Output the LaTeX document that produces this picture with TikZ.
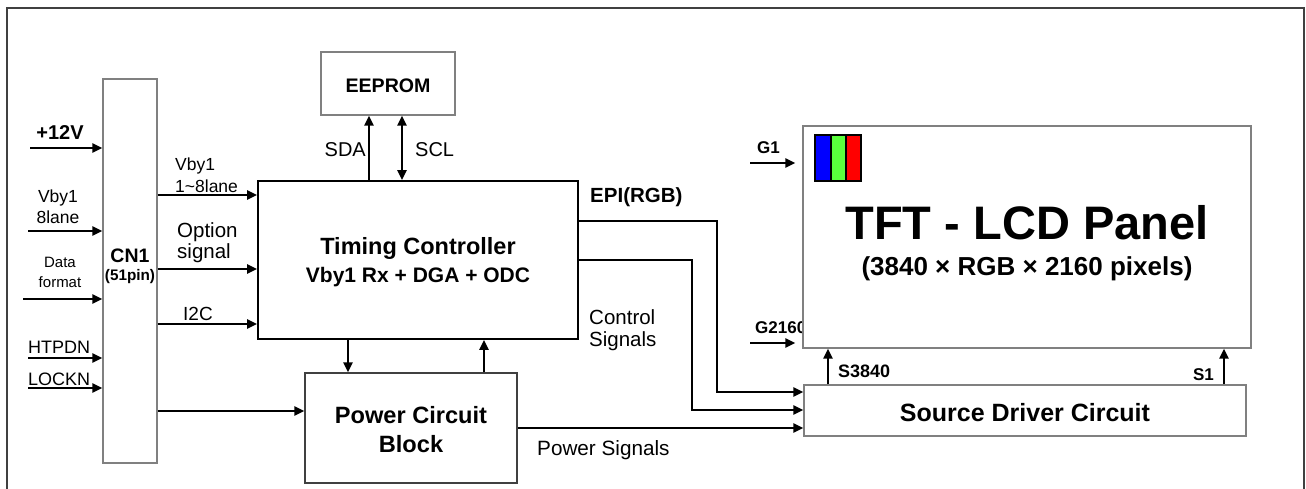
\documentclass[tikz,border=0pt]{standalone}
\usepackage{fontspec}
\setmainfont{Liberation Sans}
\usetikzlibrary{arrows.meta}
\newcommand\fsz[1]{\fontsize{#1}{#1}\selectfont}
\begin{document}
\begin{tikzpicture}[x=1pt,y=-1pt,
  arr/.style={line width=2.5pt,-{Triangle[length=10pt,width=9pt]}},
  darr/.style={line width=2.5pt,{Triangle[length=10pt,width=9pt]}-{Triangle[length=10pt,width=9pt]}},
  gbox/.style={draw=black!50,line width=1.4pt,fill=white,inner sep=0pt},
  kbox/.style={draw=black,line width=1.7pt,fill=white,inner sep=0pt},
  lbl/.style={inner sep=0pt,anchor=base},
  lblw/.style={inner sep=0pt,anchor=base west},
  lble/.style={inner sep=0pt,anchor=base east}]
\useasboundingbox (0,0) rectangle (1306,489);
\clip (0,0) rectangle (1306,489);
% outer frame
\draw[draw=black!75,line width=2.5pt] (7,500) -- (7,8) -- (1304,8) -- (1304,500);

% boxes
\node[gbox,minimum width=54pt,minimum height=384pt] (cn1) at (130,271) {};
\node[kbox,minimum width=320pt,minimum height=158pt] (tc) at (418,260) {};
\node[gbox,minimum width=134pt,minimum height=63pt] (ee) at (388,83.5) {};
\node[gbox,draw=black!75,minimum width=212pt,minimum height=110pt] (pw) at (411,428) {};
\node[lblw,font=\bfseries\fsz{17}] (g2160) at (755,333) {G2160};
\node[gbox,minimum width=448pt,minimum height=222pt] (panel) at (1027,237) {};
\node[gbox,minimum width=442pt,minimum height=51pt] (sd) at (1025,410.5) {};

% RGB pixel
\path[fill={rgb,255:red,0;green,0;blue,255}] (815,135) rectangle (831,181);
\path[fill={rgb,255:red,90;green,255;blue,60}] (831,135) rectangle (846,181);
\path[fill={rgb,255:red,255;green,0;blue,0}] (846,135) rectangle (861,181);
\draw[line width=1.5pt] (815,135) rectangle (861,181) (831,135) -- (831,181) (846,135) -- (846,181);

% input arrows to CN1
\coordinate (i1) at (30,148);
\coordinate (i2) at (28,231);
\coordinate (i3) at (23,299);
\coordinate (i4) at (28,358);
\coordinate (i5) at (28,388);
\foreach \c in {i1,i2,i3,i4,i5} \draw[arr] (\c) -- (\c -| cn1.west);

% CN1 outputs
\coordinate (o1) at (160,195);
\coordinate (o2) at (160,269);
\coordinate (o3) at (160,324);
\coordinate (o4) at (160,411);
\foreach \c in {o1,o2,o3} \draw[arr] (\c -| cn1.east) -- (\c -| tc.west);
\draw[arr] (o4 -| cn1.east) -- (o4 -| pw.west);

% EEPROM links
\coordinate (sdax) at (369,150);
\coordinate (sclx) at (402,150);
\draw[arr] (sdax |- tc.north) -- (sdax |- ee.south);
\draw[darr] (sclx |- tc.north) -- (sclx |- ee.south);

% TC <-> power
\coordinate (dnx) at (348,356);
\coordinate (upx) at (484,356);
\draw[arr] (dnx |- tc.south) -- (dnx |- pw.north);
\draw[arr] (upx |- pw.north) -- (upx |- tc.south);

% EPI and control to source driver
\coordinate (e1) at (717,221);
\coordinate (e2) at (717,392);
\coordinate (c1) at (692,260);
\coordinate (c2) at (692,410);
\draw[arr] (e1 -| tc.east) -- (e1) -- (e2) -- (e2 -| sd.west);
\draw[arr] (c1 -| tc.east) -- (c1) -- (c2) -- (c2 -| sd.west);
\draw[arr] (pw.east) -- (pw.east -| sd.west);

% gate arrows
\coordinate (gg1) at (750,163);
\coordinate (gg2) at (750,343);
\draw[arr,shorten >=7pt] (gg1) -- (gg1 -| panel.west);
\draw[arr,shorten >=7pt] (gg2) -- (gg2 -| panel.west);

% source arrows
\coordinate (s1x) at (828,366);
\coordinate (s2x) at (1224,366);
\draw[arr] (s1x |- sd.north) -- (s1x |- panel.south);
\draw[arr] (s2x |- sd.north) -- (s2x |- panel.south);

% labels
\node[lbl,font=\bfseries\fsz{20}] (t12v) at (60,140) {+12V};
\node[lbl,font=\fsz{17.5}] (tvb1) at (58,203) {Vby1};
\node[lbl,font=\fsz{17.5}] (tvb2) at (58,224) {8lane};
\node[lbl,font=\fsz{15}] (tdf1) at (60,267) {Data};
\node[lbl,font=\fsz{15}] (tdf2) at (60,287) {format};
\node[lblw,font=\fsz{18}] (thtp) at (28,353) {HTPDN};
\node[lblw,font=\fsz{18}] (tlck) at (28,385) {LOCKN};
\node[lbl,font=\bfseries\fsz{19.5}] (tcn1) at (130,262) {CN1};
\node[lbl,font=\bfseries\fsz{15.3}] (tcn2) at (130,280) {(51pin)};
\node[lblw,font=\fsz{17.5}] (tov1) at (175,171) {Vby1};
\node[lblw,font=\fsz{17.5}] (tov2) at (175,193) {1\textasciitilde 8lane};
\node[lblw,font=\fsz{20.5}] (top1) at (177,237) {Option};
\node[lblw,font=\fsz{20.5}] (top2) at (177,258) {signal};
\node[lblw,font=\fsz{19}] (ti2c) at (183,320) {I2C};
\node[lbl,font=\bfseries\fsz{19.6}] (tee) at (388,93) {EEPROM};
\node[lble,font=\fsz{20}] (tsda) at (366,157) {SDA};
\node[lblw,font=\fsz{20}] (tscl) at (415,157) {SCL};
\node[lbl,font=\bfseries\fsz{23.5}] (ttc1) at (418,254) {Timing Controller};
\node[lbl,font=\bfseries\fsz{21}] (ttc2) at (418,282) {Vby1 Rx + DGA + ODC};
\node[lblw,font=\bfseries\fsz{20.5}] (tepi) at (590,203) {EPI(RGB)};
\node[lblw,font=\fsz{20.5}] (tcs1) at (589,324) {Control};
\node[lblw,font=\fsz{20.5}] (tcs2) at (589,346) {Signals};
\node[lbl,font=\bfseries\fsz{23.6}] (tpw1) at (411,423) {Power Circuit};
\node[lbl,font=\bfseries\fsz{23.6}] (tpw2) at (411,452) {Block};
\node[lblw,font=\fsz{20.7}] (tps) at (537,455) {Power Signals};
\node[lblw,font=\bfseries\fsz{17}] (tg1) at (757,154) {G1};
\node[lbl,font=\bfseries\fsz{47}] (ttft) at (1027,240) {TFT - LCD Panel};
\node[lbl,font=\bfseries\fsz{26}] (tres) at (1027,275) {(3840 × RGB × 2160 pixels)};
\node[lbl,font=\bfseries\fsz{25}] (tsd) at (1025,421) {Source Driver Circuit};
\node[lblw,font=\bfseries\fsz{18}] (ts38) at (838,377) {S3840};
\node[lble,font=\bfseries\fsz{17}] (ts1) at (1214,380) {S1};
\end{tikzpicture}
\end{document}
